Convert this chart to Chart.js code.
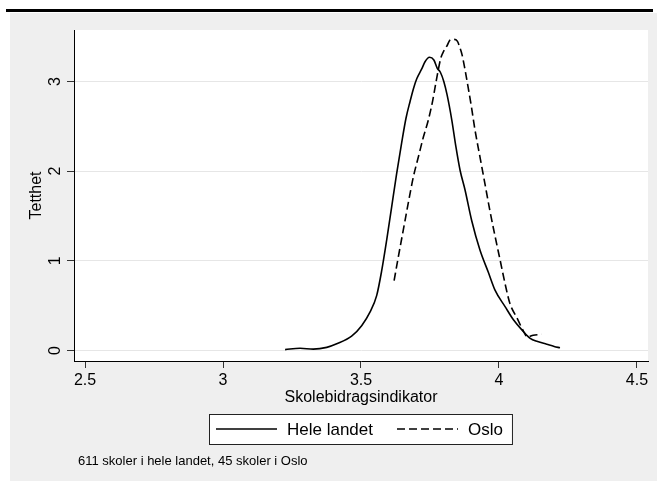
<!DOCTYPE html>
<html>
<head>
<meta charset="utf-8">
<script src="https://cdn.jsdelivr.net/npm/chart.js@4.4.1/dist/chart.umd.min.js"></script>
<style>
  html, body { margin: 0; padding: 0; background: #fff; }
</style>
</head>
<body>
<canvas id="densityChart" width="657" height="481"></canvas>
<script>
const ctx = document.getElementById('densityChart').getContext('2d');

// Kernel density, all schools in the country
const heleLandetX = [3.225, 3.279, 3.327, 3.376, 3.412, 3.466, 3.503, 3.533, 3.557, 3.575,
  3.593, 3.611, 3.629, 3.647, 3.663, 3.678, 3.690, 3.702, 3.720, 3.732, 3.748, 3.764,
  3.776, 3.788, 3.800, 3.812, 3.829, 3.844, 3.859, 3.877, 3.901, 3.931, 3.961, 3.986,
  4.022, 4.053, 4.083, 4.113, 4.140, 4.173, 4.200, 4.221];
const heleLandetY = [0.01, 0.025, 0.015, 0.035, 0.075, 0.16, 0.28, 0.43, 0.615, 0.89,
  1.23, 1.60, 1.97, 2.31, 2.59, 2.78, 2.92, 3.03, 3.14, 3.22, 3.27, 3.24,
  3.15, 3.10, 3.00, 2.85, 2.57, 2.27, 2.01, 1.79, 1.45, 1.12, 0.875, 0.67,
  0.49, 0.34, 0.23, 0.136, 0.10, 0.07, 0.045, 0.03];

// Kernel density, Oslo schools
const osloX = [3.620, 3.635, 3.653, 3.671, 3.690, 3.708, 3.726, 3.744, 3.760, 3.771,
  3.780, 3.790, 3.800, 3.812, 3.822, 3.836, 3.849, 3.858, 3.866, 3.877, 3.889, 3.900,
  3.913, 3.931, 3.949, 3.967, 3.986, 4.004, 4.022, 4.040, 4.064, 4.088, 4.103, 4.124, 4.154];
const osloY = [0.78, 1.04, 1.34, 1.64, 1.94, 2.16, 2.38, 2.57, 2.79, 2.98,
  3.13, 3.27, 3.34, 3.40, 3.46, 3.47, 3.45, 3.38, 3.30, 3.13, 2.92, 2.72,
  2.46, 2.16, 1.86, 1.56, 1.27, 1.01, 0.745, 0.52, 0.37, 0.22, 0.15, 0.17, 0.18];

const xTicks = [2.5, 3, 3.5, 4, 4.5];
const yTicks = [0, 1, 2, 3];

const seriesLabels = ['Hele landet', 'Oslo'];
const xTitle = 'Skolebidragsindikator';
const yTitle = 'Tetthet';
const noteText = '611 skoler i hele landet, 45 skoler i Oslo';

const FONT = '"Liberation Sans", Arial, sans-serif';
const BG = '#efefef';

function toPoints(xs, ys) {
  return xs.map((x, i) => ({ x: x, y: ys[i] }));
}

// background, top rule and white plot region
const framePlugin = {
  id: 'frame',
  beforeDraw(chart) {
    const c = chart.ctx;
    const a = chart.chartArea;
    c.save();
    c.fillStyle = '#fff';
    c.fillRect(0, 0, chart.width, chart.height);
    c.fillStyle = BG;
    c.fillRect(10, 13, chart.width - 10, chart.height - 13);
    c.fillStyle = '#000';
    c.fillRect(6, 9, chart.width - 10, 3);
    c.fillStyle = '#fff';
    c.fillRect(a.left, a.top, a.right - a.left, a.bottom - a.top);
    c.restore();
  },
  afterDraw(chart) {
    const c = chart.ctx;
    c.save();
    // legend in a white box
    c.font = '17px ' + FONT;
    const items = chart.data.datasets.map(ds => ({
      label: ds.label,
      dash: ds.borderDash || [],
      color: ds.borderColor,
      width: ds.borderWidth,
      textW: c.measureText(ds.label).width
    }));
    const sampleW = 61, gapText = 10, gapItem = 24, padL = 7, padR = 9;
    let total = padL + padR + gapItem * (items.length - 1);
    items.forEach(it => { total += sampleW + gapText + it.textW; });
    const left = Math.round(360 - total / 2);
    const top = 414, h = 30, cy = 429;
    c.fillStyle = '#fff';
    c.fillRect(left, top, total, h);
    c.strokeStyle = '#222';
    c.lineWidth = 1;
    c.strokeRect(left + 0.5, top + 0.5, total, h);
    let x = left + padL;
    items.forEach(it => {
      c.beginPath();
      c.setLineDash(it.dash);
      c.strokeStyle = it.color;
      c.lineWidth = it.width;
      c.moveTo(x, cy);
      c.lineTo(x + sampleW, cy);
      c.stroke();
      c.setLineDash([]);
      x += sampleW + gapText;
      c.fillStyle = '#000';
      c.textBaseline = 'middle';
      c.textAlign = 'left';
      c.fillText(it.label, x, cy + 1);
      x += it.textW + gapItem;
    });
    // note
    c.font = '13px ' + FONT;
    c.fillStyle = '#000';
    c.fillText(noteText, 78, 461);
    c.restore();
  }
};

const densityChart = new Chart(ctx, {
  type: 'line',
  data: {
    datasets: [
      {
        label: seriesLabels[0],
        data: toPoints(heleLandetX, heleLandetY),
        borderColor: '#000',
        borderWidth: 1.6,
        pointRadius: 0,
        cubicInterpolationMode: 'monotone',
        fill: false
      },
      {
        label: seriesLabels[1],
        data: toPoints(osloX, osloY),
        borderColor: '#000',
        borderWidth: 1.6,
        borderDash: [8, 4],
        pointRadius: 0,
        cubicInterpolationMode: 'monotone',
        fill: false
      }
    ]
  },
  options: {
    responsive: false,
    animation: false,
    events: [],
    layout: { padding: { left: 0, top: 30, right: 9, bottom: 70 } },
    plugins: {
      legend: { display: false },
      tooltip: { enabled: false }
    },
    scales: {
      x: {
        type: 'linear',
        min: 2.4601,
        max: 4.5399,
        afterBuildTicks: s => { s.ticks = xTicks.map(v => ({ value: v })); },
        afterFit: s => { s.height = 50; },
        border: { color: '#000', width: 1 },
        grid: { drawOnChartArea: false, tickColor: '#333', tickLength: 7 },
        ticks: {
          font: { family: FONT, size: 16 },
          color: '#000',
          padding: 3,
          maxRotation: 0,
          callback: v => String(v)
        },
        title: {
          display: true,
          text: xTitle,
          font: { family: FONT, size: 16 },
          color: '#000',
          padding: { top: 0, bottom: 4 }
        }
      },
      y: {
        type: 'linear',
        min: -0.117,
        max: 3.574,
        afterBuildTicks: s => { s.ticks = yTicks.map(v => ({ value: v })); },
        afterFit: s => { s.width = 74; },
        border: { color: '#000', width: 1 },
        grid: { color: '#e6e6e6', tickColor: '#333', tickLength: 7 },
        ticks: {
          font: { family: FONT, size: 16 },
          color: '#000',
          padding: 7,
          minRotation: 90,
          maxRotation: 90,
          crossAlign: 'center',
          callback: v => String(v)
        },
        title: {
          display: true,
          text: yTitle,
          font: { family: FONT, size: 16 },
          color: '#000',
          padding: { top: 27, bottom: 0 }
        }
      }
    }
  },
  plugins: [framePlugin]
});
</script>
</body>
</html>
